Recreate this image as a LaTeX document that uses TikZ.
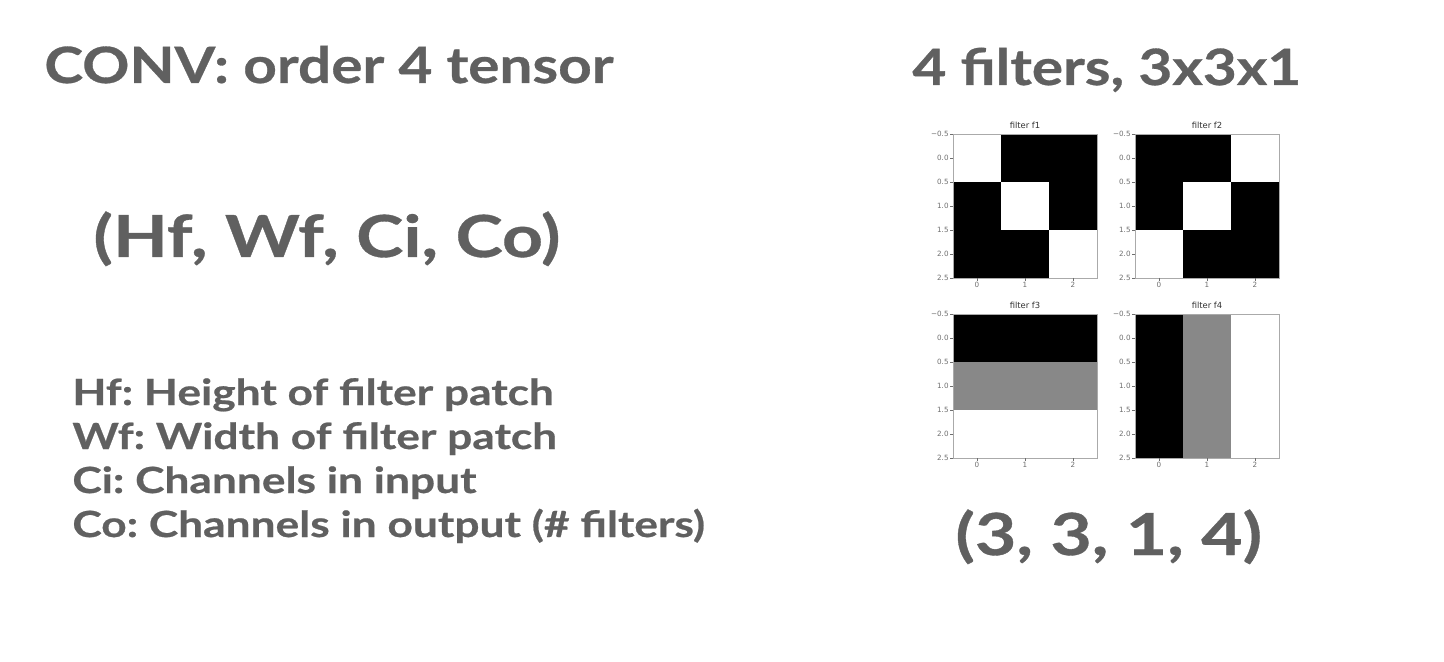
\documentclass[tikz,border=0pt]{standalone}
\usepackage{fontspec}
\setmainfont{Lato}
\newfontfamily\headfont{Lato}[BoldFeatures={FakeStretch=1.17,FakeBold=0.6}]
\newfontfamily\widefont{Lato}[BoldFeatures={FakeStretch=1.23,FakeBold=0.6}]
\newfontfamily\plotfont{DejaVu Sans}
\frenchspacing
\definecolor{slidegray}{RGB}{96,96,96}
\definecolor{cellgray}{RGB}{136,136,136}
\definecolor{framegray}{RGB}{170,170,170}
\definecolor{tickgray}{RGB}{110,110,110}
\tikzset{
  heading/.style={anchor=base west,inner sep=0pt,text=slidegray,font=\headfont\fontsize{25}{30}\selectfont\bfseries},
  shapetext/.style={anchor=base west,inner sep=0pt,text=slidegray,font=\widefont\fontsize{29}{34}\selectfont\bfseries},
  legendline/.style={anchor=base west,inner sep=0pt,text=slidegray,font=\widefont\fontsize{18}{22}\selectfont\bfseries},
  axisframe/.style={draw=framegray,line width=0.4pt},
  ticklabel/.style={inner sep=0.5pt,text=tickgray,font=\plotfont\fontsize{3.6}{4}\selectfont},
  plottitle/.style={inner sep=0pt,text=black!80,font=\plotfont\fontsize{4.2}{5}\selectfont},
}
% one imshow panel: x, y, name, cells (row/col/colour)
\newcommand{\fplot}[4]{%
  \begin{scope}[shift={(#1,#2)}]
    \foreach \r/\c/\col in {#4}
      \fill[\col] (\c*48,\r*48) rectangle ++(48,48);
    \draw[axisframe] (0,0) rectangle (144,144);
    \foreach \k/\lab in {0/−0.5,1/0.0,2/0.5,3/1.0,4/1.5,5/2.0,6/2.5}{
      \draw[tickgray,line width=0.3pt] (0,\k*24) -- (-3,\k*24);
      \node[ticklabel,anchor=east] (#3y\k) at (-3,\k*24) {\lab};
    }
    \foreach \k in {0,1,2}{
      \draw[tickgray,line width=0.3pt] (24+\k*48,144) -- (24+\k*48,147);
      \node[ticklabel,anchor=north] (#3x\k) at (24+\k*48,147) {\k};
    }
    \node[plottitle,anchor=base] (#3) at (72,-5) {filter #3};
  \end{scope}}

\begin{document}
\begin{tikzpicture}[x=0.5pt,y=0.5pt,yscale=-1]
\useasboundingbox[fill=white] (0,0) rectangle (1444,662);

% left column
\node[heading] (conv) at (44,83) {CONV: order 4 tensor};
\node[shapetext] (shape) at (93,257) {(Hf, Wf, Ci, Co)};
\node[legendline] (hf) at (72,405) {Hf: Height of filter patch};
\node[legendline] (wf) at (72,449) {Wf: Width of filter patch};
\node[legendline] (ci) at (72,493) {Ci: Channels in input};
\node[legendline] (co) at (72,537) {Co: Channels in output (\# filters)};

% right column
\node[heading] (nfilt) at (912,85) {4 filters, 3x3x1};

\fplot{953}{134}{f1}{0/0/white,0/1/black,0/2/black,1/0/black,1/1/white,1/2/black,2/0/black,2/1/black,2/2/white}
\fplot{1135}{134}{f2}{0/0/black,0/1/black,0/2/white,1/0/black,1/1/white,1/2/black,2/0/white,2/1/black,2/2/black}
\fplot{953}{314}{f3}{0/0/black,0/1/black,0/2/black,1/0/cellgray,1/1/cellgray,1/2/cellgray,2/0/white,2/1/white,2/2/white}
\fplot{1135}{314}{f4}{0/0/black,1/0/black,2/0/black,0/1/cellgray,1/1/cellgray,2/1/cellgray,0/2/white,1/2/white,2/2/white}

\node[shapetext] (dims) at (955,555) {(3, 3, 1, 4)};

\end{tikzpicture}
\end{document}
